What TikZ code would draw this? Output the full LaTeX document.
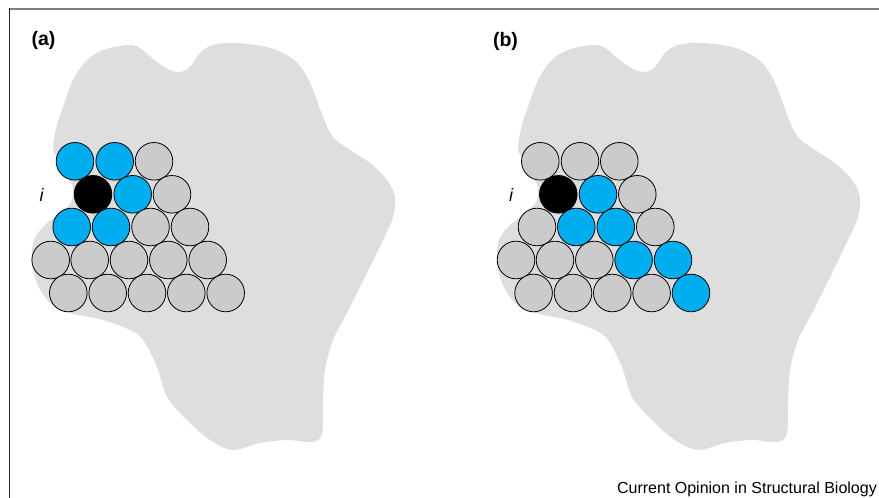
\documentclass[tikz,border=0pt]{standalone}
\usepackage{fontspec}
\setmainfont{Liberation Sans}
\definecolor{blobgray}{HTML}{DEDEDE}
\definecolor{ballgray}{HTML}{CBCBCD}
\definecolor{ballblue}{HTML}{00AEEF}
\definecolor{framegray}{HTML}{7F7F7F}
\tikzset{
  ball/.style={circle, draw=black, line width=0.8pt, minimum size=37.6pt, inner sep=0pt},
  blob/.style={fill=blobgray},
  panellabel/.style={font=\fontsize{19.5}{22}\selectfont\bfseries, inner sep=0pt},
  ilabel/.style={font=\fontsize{18}{20}\selectfont\itshape, inner sep=0pt},
}
\newcommand{\blobshape}{%
  plot[smooth cycle, tension=0.55] coordinates {
    (53,147) (57,125) (63,107) (73,80) (87,60) (103,50) (127,45) (140,48)
    (157,62) (170,70) (180,72) (190,67) (200,53) (213,45) (237,43) (267,47)
    (290,57) (303,70) (313,90) (323,117) (333,137) (350,150) (370,163)
    (387,180) (395,197) (393,217) (383,240) (367,273) (347,313) (333,340)
    (325,370) (323,403) (322,433) (313,442) (287,440) (260,443) (233,450)
    (210,440) (187,420) (167,397) (157,367) (143,340) (130,330) (103,320)
    (70,313) (50,303) (37,283) (32,260) (34,240) (45,225) (60,213) (71,202)
    (73,188) (66,172) (57,158)}}
\begin{document}
\begin{tikzpicture}[x=1pt, y=-1pt]
\useasboundingbox (0,0) rectangle (879,498);
% frame
\draw[framegray, line width=2pt] (9,9) -- (879,9);
\draw[black!85, line width=1.2pt] (9.3,8) -- (9.3,498);
% blobs
\fill[blob] \blobshape;
\begin{scope}[xshift=465pt]
\fill[blob] \blobshape;
\end{scope}
% panel (a)
\begin{scope}
\foreach \x/\c [count=\k] in {75/ballblue,114.7/ballblue,154/ballgray}
  \node[ball, fill=\c] (a1\k) at (\x,161.3) {};
\foreach \x/\c [count=\k] in {93/black,132.7/ballblue,172/ballgray}
  \node[ball, fill=\c] (a2\k) at (\x,194.3) {};
\foreach \x/\c [count=\k] in {71.7/ballblue,111/ballblue,150.5/ballgray,190/ballgray}
  \node[ball, fill=\c] (a3\k) at (\x,227) {};
\foreach \x/\c [count=\k] in {50.7/ballgray,89.7/ballgray,129/ballgray,168.3/ballgray,207.7/ballgray}
  \node[ball, fill=\c] (a4\k) at (\x,260) {};
\foreach \x/\c [count=\k] in {68.3/ballgray,107.7/ballgray,147/ballgray,186.3/ballgray,225.7/ballgray}
  \node[ball, fill=\c] (a5\k) at (\x,293) {};
\end{scope}
% panel (b)
\begin{scope}[xshift=465.3pt]
\foreach \x/\c [count=\k] in {75/ballgray,114.7/ballgray,154/ballgray}
  \node[ball, fill=\c] (b1\k) at (\x,161.3) {};
\foreach \x/\c [count=\k] in {93/black,132.7/ballblue,172/ballgray}
  \node[ball, fill=\c] (b2\k) at (\x,194.3) {};
\foreach \x/\c [count=\k] in {71.7/ballgray,111/ballblue,150.5/ballblue,190/ballgray}
  \node[ball, fill=\c] (b3\k) at (\x,227) {};
\foreach \x/\c [count=\k] in {50.7/ballgray,89.7/ballgray,129/ballgray,168.3/ballblue,207.7/ballblue}
  \node[ball, fill=\c] (b4\k) at (\x,260) {};
\foreach \x/\c [count=\k] in {68.3/ballgray,107.7/ballgray,147/ballgray,186.3/ballgray,225.7/ballblue}
  \node[ball, fill=\c] (b5\k) at (\x,293) {};
\end{scope}
% labels
\node[panellabel] (la) at (43.5,40.5) {(a)};
\node[panellabel] (lb) at (505.5,41) {(b)};
\node[ilabel] (ia) at (41.5,195) {i};
\node[ilabel] (ib) at (511,195) {i};
\node[anchor=base east, inner sep=0pt, font=\fontsize{16}{19}\selectfont] (src) at (877,493) {Current Opinion in Structural Biology};
\end{tikzpicture}
\end{document}
